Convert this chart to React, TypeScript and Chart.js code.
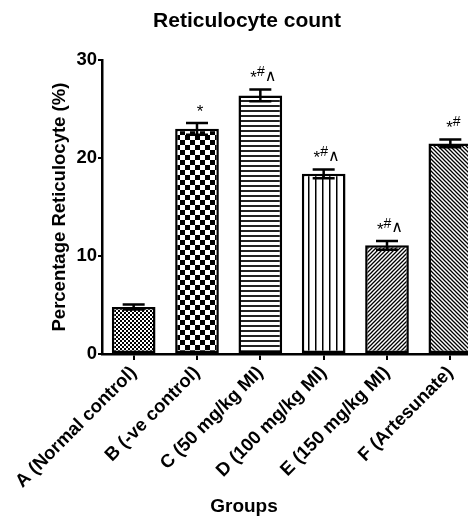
import React, { useEffect, useRef } from "react";
import { Chart, registerables } from "chart.js";

Chart.register(...registerables);

const categories = [
  "A (Normal control)",
  "B (-ve control)",
  "C (50 mg/kg MI)",
  "D (100 mg/kg MI)",
  "E (150 mg/kg MI)",
  "F (Artesunate)",
];
const means = [4.8, 23.0, 26.4, 18.4, 11.1, 21.5];
const sems = [0.25, 0.6, 0.6, 0.45, 0.45, 0.4];
const notes = ["", "*", "*#∧", "*#∧", "*#∧", "*#"];
const yTicks = [0, 10, 20, 30];

const W = 492;
const H = 518;

function tile(w: number, h: number, draw: (c: CanvasRenderingContext2D) => void) {
  const cv = document.createElement("canvas");
  cv.width = w;
  cv.height = h;
  const c = cv.getContext("2d")!;
  c.fillStyle = "#fff";
  c.fillRect(0, 0, w, h);
  draw(c);
  return c.createPattern(cv, "repeat")!;
}

function makePatterns(): CanvasPattern[] {
  const checker = (cell: number) =>
    tile(cell * 2, cell * 2, (c) => {
      c.fillStyle = "#000";
      c.fillRect(0, 0, cell, cell);
      c.fillRect(cell, cell, cell, cell);
    });
  const hLines = tile(4, 5, (c) => {
    c.fillStyle = "#222";
    c.fillRect(0, 0, 4, 2);
  });
  const vLines = tile(7, 4, (c) => {
    c.fillStyle = "#000";
    c.fillRect(0, 0, 1.5, 4);
  });
  const diag = (p: number, forward: boolean) =>
    tile(p, p, (c) => {
      c.strokeStyle = "#000";
      c.lineWidth = 1.3;
      c.beginPath();
      if (forward) {
        c.moveTo(-1, p + 1);
        c.lineTo(p + 1, -1);
        c.moveTo(-1, 1);
        c.lineTo(1, -1);
        c.moveTo(p - 1, p + 1);
        c.lineTo(p + 1, p - 1);
      } else {
        c.moveTo(-1, -1);
        c.lineTo(p + 1, p + 1);
        c.moveTo(p - 1, -1);
        c.lineTo(p + 1, 1);
        c.moveTo(-1, p - 1);
        c.lineTo(1, p + 1);
      }
      c.stroke();
    });
  return [checker(2), checker(5), hLines, vLines, diag(4, true), diag(4, false)];
}

const extrasPlugin = {
  id: "extras",
  afterDatasetsDraw(chart: any) {
    const ctx: CanvasRenderingContext2D = chart.ctx;
    const y = chart.scales.y;
    const meta = chart.getDatasetMeta(0);
    ctx.save();
    meta.data.forEach((bar: any, i: number) => {
      const x = bar.x;
      const top = y.getPixelForValue(means[i] + sems[i]);
      const bot = y.getPixelForValue(means[i] - sems[i]);
      ctx.strokeStyle = "#000";
      ctx.lineWidth = 2.5;
      ctx.beginPath();
      ctx.moveTo(x, top);
      ctx.lineTo(x, bot);
      ctx.moveTo(x - 11, top);
      ctx.lineTo(x + 11, top);
      ctx.moveTo(x - 11, bot);
      ctx.lineTo(x + 11, bot);
      ctx.stroke();

      const s = notes[i];
      if (!s) return;
      const pieces = Array.from(s).map((ch) => {
        if (ch === "*") return { ch, font: "17px 'Liberation Sans', Arial", dy: -11 };
        if (ch === "#") return { ch, font: "14px 'Liberation Sans', Arial", dy: -17 };
        return { ch, font: "16px 'DejaVu Sans'", dy: -13 };
      });
      let total = 0;
      const widths = pieces.map((p) => {
        ctx.font = p.font;
        const w = ctx.measureText(p.ch).width;
        total += w;
        return w;
      });
      let cx = x + 3 - total / 2;
      ctx.fillStyle = "#000";
      ctx.textBaseline = "middle";
      ctx.textAlign = "left";
      pieces.forEach((p, k) => {
        ctx.font = p.font;
        ctx.fillText(p.ch, cx, top + p.dy);
        cx += widths[k];
      });
    });
    // x-axis title
    ctx.font = "bold 19px 'Liberation Sans', Arial";
    ctx.textAlign = "center";
    ctx.textBaseline = "middle";
    ctx.fillStyle = "#000";
    ctx.fillText("Groups", 244, 507);
    ctx.restore();
  },
};

export default function App() {
  const ref = useRef<HTMLCanvasElement | null>(null);
  useEffect(() => {
    if (!ref.current) return;
    const patterns = makePatterns();
    const font = { family: "'Liberation Sans', Arial, sans-serif", weight: "bold" as const, size: 18.5 };
    const chart = new Chart(ref.current, {
      type: "bar",
      data: {
        labels: categories,
        datasets: [
          {
            data: means,
            backgroundColor: patterns,
            borderColor: "#000",
            borderWidth: 2.5,
            borderSkipped: false,
            categoryPercentage: 1,
            barPercentage: 0.69,
          },
        ],
      },
      plugins: [extrasPlugin],
      options: {
        animation: false,
        responsive: false,
        devicePixelRatio: 1,
        layout: { padding: { top: 0, right: 10, bottom: 0, left: 12 } },
        plugins: {
          legend: { display: false },
          tooltip: { enabled: false },
          title: {
            display: true,
            text: "Reticulocyte count",
            color: "#000",
            font: { family: font.family, weight: "bold", size: 21 },
            padding: { top: 9, bottom: 26 },
          },
        },
        scales: {
          x: {
            offset: true,
            grid: {
              display: true,
              drawOnChartArea: false,
              drawTicks: true,
              tickLength: 6,
              color: "#000",
              lineWidth: 2,
              offset: false,
            },
            border: { display: true, color: "#000", width: 2.5 },
            ticks: {
              color: "#000",
              font,
              minRotation: 45,
              maxRotation: 45,
              autoSkip: false,
              padding: 2,
            },
            afterFit: (scale: any) => {
              scale.height = 164;
            },
          },
          y: {
            min: 0,
            max: 30,
            afterBuildTicks: (scale: any) => {
              scale.ticks = yTicks.map((v) => ({ value: v }));
            },
            grid: {
              display: true,
              drawOnChartArea: false,
              drawTicks: true,
              tickLength: 4,
              color: "#000",
              lineWidth: 2,
            },
            border: { display: true, color: "#000", width: 2.5 },
            ticks: { color: "#000", font, padding: 1 },
            title: {
              display: true,
              text: "Percentage Reticulocyte (%)",
              color: "#000",
              font,
              padding: { top: 37, bottom: 0 },
            },
            afterFit: (scale: any) => {
              scale.width = 90;
            },
          },
        },
      },
    });
    return () => chart.destroy();
  }, []);
  return (
    <div
      style={{
        position: "fixed",
        left: 0,
        top: 0,
        width: 468,
        height: 518,
        overflow: "hidden",
        background: "#fff",
      }}
    >
      <canvas ref={ref} width={W} height={H} style={{ display: "block", width: W, height: H }} />
    </div>
  );
}
